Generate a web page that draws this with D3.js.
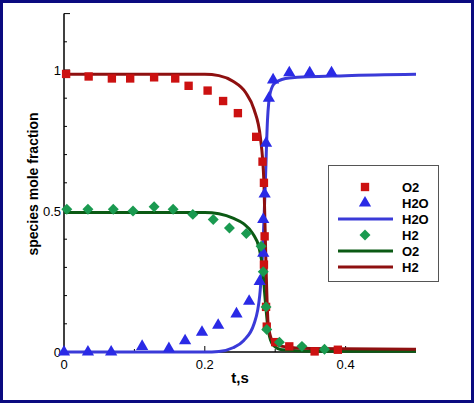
<!DOCTYPE html>
<html><head><meta charset="utf-8">
<script src="https://d3js.org/d3.v7.min.js"></script>
<style>body{margin:0;background:#fff}svg{display:block}</style></head>
<body><svg id="c" width="474" height="403"></svg>
<script>
const o2Sq = [[0.003,0.986],[0.035,0.977],[0.068,0.97],[0.094,0.97],[0.128,0.974],[0.158,0.97],[0.177,0.944],[0.204,0.927],[0.226,0.89],[0.247,0.847],[0.273,0.763],[0.282,0.675],[0.284,0.6],[0.285,0.41],[0.284,0.31],[0.287,0.16],[0.288,0.09],[0.3,0.035],[0.32,0.02],[0.356,0.002],[0.389,0.008]];
const h2oTri = [[0,0],[0.034,0],[0.067,0],[0.111,0.02],[0.149,0.012],[0.172,0.04],[0.196,0.07],[0.219,0.095],[0.245,0.135],[0.263,0.18],[0.278,0.25],[0.283,0.35],[0.283,0.47],[0.285,0.56],[0.287,0.74],[0.291,0.9],[0.297,0.965],[0.32,0.99],[0.349,0.99],[0.38,0.99]];
const h2Dia = [[0.004,0.506],[0.034,0.506],[0.07,0.506],[0.098,0.5],[0.128,0.515],[0.155,0.506],[0.183,0.488],[0.212,0.47],[0.235,0.44],[0.259,0.42],[0.28,0.375],[0.283,0.285],[0.287,0.16],[0.288,0.08],[0.306,0.035],[0.338,0.02],[0.37,0.01]];
const h2oLine = [[0,0],[0.2,0],[0.22,0.002],[0.24,0.015],[0.255,0.04],[0.27,0.1],[0.278,0.2],[0.283,0.4],[0.286,0.6],[0.289,0.82],[0.293,0.92],[0.3,0.955],[0.32,0.972],[0.4,0.98],[0.5,0.985]];
const o2Line = [[0,0.495],[0.2,0.495],[0.22,0.49],[0.24,0.475],[0.255,0.455],[0.268,0.42],[0.277,0.37],[0.282,0.3],[0.286,0.18],[0.29,0.08],[0.297,0.025],[0.31,0.008],[0.35,0.003],[0.5,0.003]];
const h2Line = [[0,0.985],[0.2,0.985],[0.22,0.98],[0.24,0.96],[0.258,0.92],[0.27,0.86],[0.279,0.76],[0.284,0.6],[0.287,0.3],[0.29,0.1],[0.296,0.04],[0.31,0.02],[0.35,0.012],[0.5,0.01]];
const xTicks = [0,0.2,0.4], xMinor=[0.1,0.3];
const yTicks = [0,0.5,1], yMinor=[0.1,0.2,0.3,0.4,0.6,0.7,0.8,0.9,1.1];
const legendItems = [["sq","#cc1111","O2"],["tri","#2a2ae6","H2O"],["line","#3a3ad8","H2O"],["dia","#1a9a50","H2"],["line","#0b5a14","O2"],["line","#8e1010","H2"]];

const svg=d3.select("#c");
svg.append("rect").attr("x",1.5).attr("y",1.5).attr("width",471).attr("height",400).attr("fill","#fff").attr("stroke","#0a0a80").attr("stroke-width",3);
const x=d3.scaleLinear().domain([0,0.5]).range([64,416]);
const y=d3.scaleLinear().domain([0,1]).range([352,70]);
const g=svg.append("g");
g.append("line").attr("x1",64).attr("x2",64).attr("y1",y(1.2)).attr("y2",352).attr("stroke","#000").attr("stroke-width",1.5);
g.append("line").attr("x1",64).attr("x2",416).attr("y1",352).attr("y2",352).attr("stroke","#000").attr("stroke-width",1.5);
yTicks.concat([1.2]).forEach(v=>g.append("line").attr("x1",64).attr("x2",70).attr("y1",y(v)).attr("y2",y(v)).attr("stroke","#000"));
yMinor.forEach(v=>g.append("line").attr("x1",64).attr("x2",67).attr("y1",y(v)).attr("y2",y(v)).attr("stroke","#000"));
xTicks.forEach(v=>g.append("line").attr("x1",x(v)).attr("x2",x(v)).attr("y1",352).attr("y2",346).attr("stroke","#000"));
xMinor.forEach(v=>g.append("line").attr("x1",x(v)).attr("x2",x(v)).attr("y1",352).attr("y2",349).attr("stroke","#000"));
const F="Liberation Sans, Arial, sans-serif";
yTicks.forEach(v=>g.append("text").attr("x",61).attr("y",y(v)+5).attr("text-anchor","end").attr("font-family",F).attr("font-size",13).text(d3.format("~g")(v)));
xTicks.forEach(v=>g.append("text").attr("x",x(v)).attr("y",369).attr("text-anchor","middle").attr("font-family",F).attr("font-size",13).text(d3.format("~g")(v)));
svg.append("text").attr("x",240).attr("y",383).attr("text-anchor","middle").attr("font-family",F).attr("font-size",15).attr("font-weight","bold").text("t,s");
svg.append("text").attr("transform","translate(38,184) rotate(-90)").attr("text-anchor","middle").attr("font-family",F).attr("font-size",14).attr("font-weight","bold").text("species mole fraction");

const line=d3.line().x(d=>x(d[0])).y(d=>y(d[1])).curve(d3.curveMonotoneX);
[[h2oLine,"#3a3ad8"],[o2Line,"#0b5a14"],[h2Line,"#8e1010"]].forEach(([d,c])=>g.append("path").attr("d",line(d)).attr("fill","none").attr("stroke",c).attr("stroke-width",3));
const sym={sq:d3.symbol(d3.symbolSquare,70),tri:d3.symbol(d3.symbolTriangle,65),dia:d3.symbol(d3.symbolSquare,60)};
const rot={sq:0,tri:0,dia:45};
g.selectAll(".s").data(o2Sq).join("path").attr("d",sym.sq()).attr("transform",d=>`translate(${x(d[0])},${y(d[1])})`).attr("fill","#cc1111");
g.selectAll(".t").data(h2oTri).join("path").attr("d",sym.tri()).attr("transform",d=>`translate(${x(d[0])},${y(d[1])})`).attr("fill","#2a2ae6");
g.selectAll(".d").data(h2Dia).join("path").attr("d",sym.dia()).attr("transform",d=>`translate(${x(d[0])},${y(d[1])}) rotate(45)`).attr("fill","#1a9a50");

const L=svg.append("g");
L.append("rect").attr("x",328.5).attr("y",165.5).attr("width",110).attr("height",116).attr("fill","#fff").attr("stroke","#555");
legendItems.forEach((it,i)=>{
  const yy=187+i*16;
  if(it[0]==="line") L.append("line").attr("x1",338).attr("x2",393).attr("y1",yy).attr("y2",yy).attr("stroke",it[1]).attr("stroke-width",3);
  else L.append("path").attr("d",sym[it[0]]()).attr("transform",`translate(365,${yy}) rotate(${rot[it[0]]})`).attr("fill",it[1]);
  L.append("text").attr("x",402).attr("y",yy+5).attr("font-family",F).attr("font-size",13).attr("font-weight","bold").text(it[2]);
});
</script></body></html>
